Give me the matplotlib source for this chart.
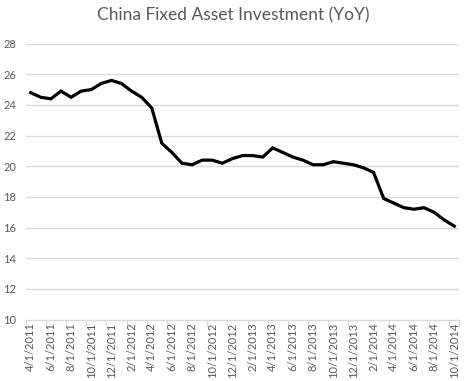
import matplotlib
matplotlib.use("Agg")
import matplotlib.pyplot as plt

# Monthly readings, 4/1/2011 .. 10/1/2014
meses = [f"{m}/1/{y}" for y in range(2011, 2015) for m in range(1, 13)]
meses = meses[3:3 + 43]
fai = [24.8, 24.5, 24.4, 24.9, 24.5, 24.9, 25.0, 25.4, 25.6, 25.4,
       24.9, 24.5, 23.8, 21.5, 20.9, 20.2, 20.1, 20.4, 20.4, 20.2,
       20.5, 20.7, 20.7, 20.6, 21.2, 20.9, 20.6, 20.4, 20.1, 20.1,
       20.3, 20.2, 20.1, 19.9, 19.6, 17.9, 17.6, 17.3, 17.2, 17.3,
       17.0, 16.5, 16.1]
y_ticks = list(range(10, 29, 2))

GRIS = "#595959"
plt.rcParams["font.family"] = ["Lato", "DejaVu Sans"]

fig = plt.figure(figsize=(4.67, 3.81), dpi=100)
ax = fig.add_axes([0.055, 0.161, 0.9285, 0.7246])

x = list(range(len(fai)))
ax.plot(x, fai, color="black", linewidth=2.3, solid_joinstyle="miter", zorder=3)

ax.set_xlim(-0.5, len(fai) - 0.5)
ax.set_ylim(10, 28)
ax.set_yticks(y_ticks)
ax.set_yticklabels([str(v) for v in y_ticks], color=GRIS, fontsize=8)
ax.grid(axis="y", color="#d9d9d9", linewidth=1)
ax.set_axisbelow(True)

# tick marks at category boundaries, labels at category centres
borde = [i - 0.5 for i in range(0, len(fai), 2)] + [len(fai) - 0.5]
ax.set_xticks(borde)
ax.set_xticklabels([])
ax.tick_params(axis="x", which="major", length=4, color="#d9d9d9")
ax.set_xticks(x[::2], minor=True)
ax.set_xticklabels(meses[::2], minor=True, rotation=90, color=GRIS, fontsize=8)
ax.tick_params(axis="x", which="minor", length=0, pad=2)
ax.tick_params(axis="y", length=0, pad=7)

for s in ["top", "right", "left"]:
    ax.spines[s].set_visible(False)
ax.spines["bottom"].set_color("#d9d9d9")

fig.text(0.5, 0.96, "China Fixed Asset Investment (YoY)", ha="center", va="center",
         color=GRIS, fontsize=12.5)

fig.savefig("out.png", dpi=100)
